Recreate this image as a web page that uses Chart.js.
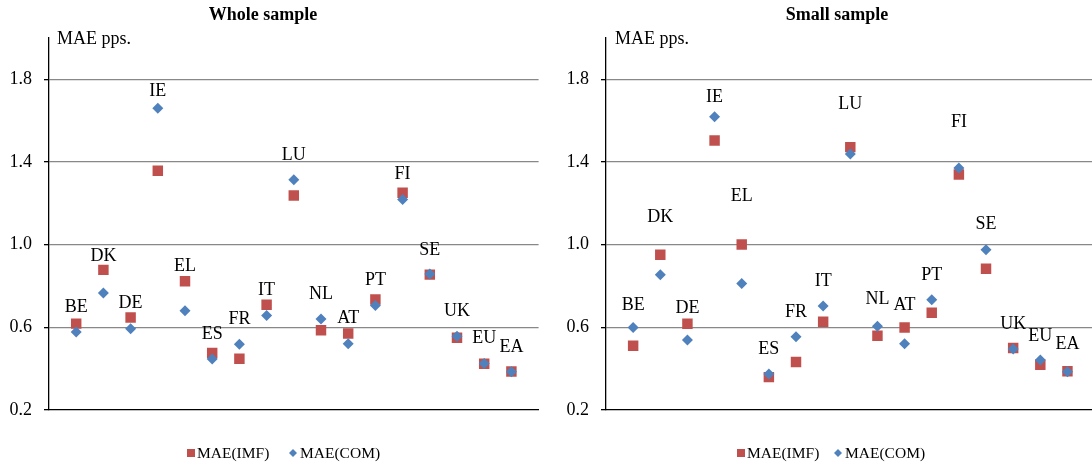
<!DOCTYPE html>
<html>
<head>
<meta charset="utf-8">
<script src="https://cdn.jsdelivr.net/npm/chart.js@4.4.1/dist/chart.umd.min.js"></script>
<style>
  html, body { margin: 0; padding: 0; background: #fff; overflow: hidden; }
  #wrap { position: relative; width: 1092px; height: 466px; overflow: hidden; }
  canvas { position: absolute; top: 0; }
  #whole { left: 0; }
  #small { left: 546px; }
</style>
</head>
<body>
<div id="wrap">
  <canvas id="whole" width="546" height="466"></canvas>
  <canvas id="small" width="556" height="466"></canvas>
</div>
<script>
const countries = ['BE','DK','DE','IE','EL','ES','FR','IT','LU','NL','AT','PT','FI','SE','UK','EU','EA'];
const yTicks = [0.2, 0.6, 1.0, 1.4, 1.8];

// Whole sample
const wholeIMF = [0.618, 0.878, 0.648, 1.358, 0.823, 0.476, 0.448, 0.709, 1.238, 0.586, 0.570, 0.735, 1.251, 0.855, 0.550, 0.424, 0.386];
const wholeCOM = [0.578, 0.766, 0.593, 1.660, 0.680, 0.447, 0.518, 0.657, 1.314, 0.640, 0.520, 0.706, 1.218, 0.858, 0.557, 0.425, 0.385];
const wholeLabelAt = [0.698, 0.943, 0.716, 1.744, 0.897, 0.568, 0.637, 0.778, 1.433, 0.760, 0.644, 0.829, 1.340, 0.975, 0.678, 0.545, 0.503];

// Small sample
const smallIMF = [0.511, 0.951, 0.617, 1.504, 1.001, 0.359, 0.432, 0.627, 1.472, 0.559, 0.599, 0.671, 1.340, 0.883, 0.500, 0.419, 0.388];
const smallCOM = [0.599, 0.855, 0.539, 1.619, 0.812, 0.374, 0.554, 0.703, 1.439, 0.605, 0.520, 0.734, 1.371, 0.975, 0.495, 0.442, 0.385];
const smallLabelAt = [0.706, 1.133, 0.690, 1.713, 1.233, 0.492, 0.671, 0.824, 1.679, 0.735, 0.706, 0.854, 1.590, 1.097, 0.617, 0.557, 0.516];

const RED = '#C0504D';
const BLUE = '#4F81BD';
const FONT = '"Liberation Serif", "Times New Roman", serif';

const toPoints = arr => arr.map((v, i) => ({x: i + 1, y: v}));

// titles, unit text, country labels and legend
const panelText = {
  id: 'panelText',
  afterDraw(chart, args, opts) {
    const ctx = chart.ctx;
    const xs = chart.scales.x, ys = chart.scales.y;
    ctx.save();
    ctx.fillStyle = '#000';
    ctx.textBaseline = 'middle';

    ctx.font = 'bold 18px ' + FONT;
    ctx.textAlign = 'center';
    ctx.fillText(opts.title, opts.titleX, 15);

    ctx.font = '18px ' + FONT;
    ctx.textAlign = 'left';
    ctx.fillText('MAE pps.', opts.unitX, 39);

    ctx.textAlign = 'center';
    countries.forEach((c, i) => {
      ctx.fillText(c, xs.getPixelForValue(i + 1), ys.getPixelForValue(opts.labelAt[i]));
    });

    // legend
    const ly = 453;
    ctx.font = '15.5px ' + FONT;
    ctx.textAlign = 'left';
    ctx.fillStyle = RED;
    ctx.fillRect(opts.legendX[0] - 4, ly - 4, 8, 8);
    ctx.fillStyle = '#000';
    ctx.fillText('MAE(IMF)', opts.legendX[0] + 6, ly + 1);
    const dx = opts.legendX[1];
    ctx.fillStyle = BLUE;
    ctx.beginPath();
    ctx.moveTo(dx, ly - 4); ctx.lineTo(dx + 4, ly); ctx.lineTo(dx, ly + 4); ctx.lineTo(dx - 4, ly);
    ctx.closePath(); ctx.fill();
    ctx.fillStyle = '#000';
    ctx.fillText('MAE(COM)', dx + 7, ly + 1);
    ctx.restore();
  }
};

function makePanel(id, imf, com, xMax, axisW, padRight, text) {
  return new Chart(document.getElementById(id), {
    type: 'scatter',
    data: {
      datasets: [
        { label: 'MAE(IMF)', data: toPoints(imf), pointStyle: 'rect', pointRadius: 7.4, pointHoverRadius: 7.4,
          backgroundColor: RED, borderColor: RED, borderWidth: 0, order: 2 },
        { label: 'MAE(COM)', data: toPoints(com), pointStyle: 'rectRot', pointRadius: 5.5, pointHoverRadius: 5.5,
          backgroundColor: BLUE, borderColor: BLUE, borderWidth: 0, order: 1 }
      ]
    },
    options: {
      responsive: false,
      animation: false,
      events: [],
      layout: { padding: { top: 38, bottom: 56, left: 0, right: padRight } },
      scales: {
        x: {
          type: 'linear', min: 0, max: xMax,
          grid: { display: false },
          ticks: { display: false },
          border: { display: true, color: '#000', width: 1.3 },
          afterFit: s => { s.height = 0; }
        },
        y: {
          min: 0.2, max: 2.0,
          afterBuildTicks: s => { s.ticks = yTicks.map(v => ({value: v})); },
          afterFit: s => { s.width = axisW; },
          grid: {
            color: c => (c.tick && Math.abs(c.tick.value - 0.2) < 1e-6) ? 'rgba(0,0,0,0)' : '#888888',
            tickColor: '#000',
            tickLength: 5,
            lineWidth: 1.3
          },
          border: { display: true, color: '#000', width: 1.3 },
          ticks: {
            color: '#000',
            padding: 12,
            font: { family: FONT, size: 18 },
            callback: v => Number(v).toFixed(1)
          }
        }
      },
      plugins: {
        legend: { display: false },
        tooltip: { enabled: false },
        panelText: text
      }
    },
    plugins: [panelText]
  });
}

makePanel('whole', wholeIMF, wholeCOM, 18, 49, 3,
  { title: 'Whole sample', titleX: 263, unitX: 57, labelAt: wholeLabelAt, legendX: [191, 293] });
makePanel('small', smallIMF, smallCOM, 18, 60, 2,
  { title: 'Small sample', titleX: 291, unitX: 69, labelAt: smallLabelAt, legendX: [195, 292] });
</script>
</body>
</html>
